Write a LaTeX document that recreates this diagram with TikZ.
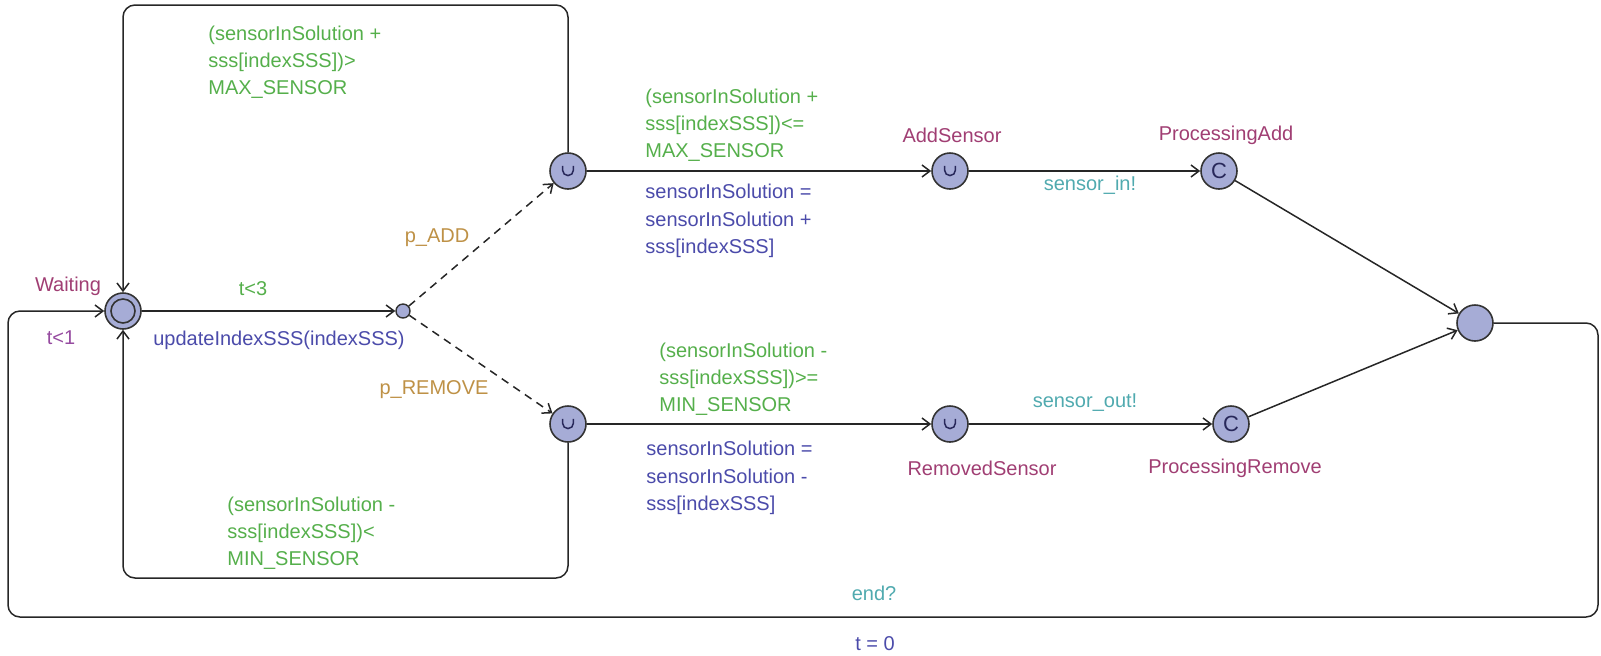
\documentclass[tikz,border=0pt]{standalone}
\usepackage{fontspec}
\setmainfont{Liberation Sans}
\usepackage{xcolor}
\usepackage{tikz}
\usetikzlibrary{arrows.meta,positioning}

\definecolor{locfill}{RGB}{166,172,214}
\definecolor{locname}{RGB}{160,62,115}
\definecolor{guardc}{RGB}{85,175,75}
\definecolor{updc}{RGB}{75,75,170}
\definecolor{syncc}{RGB}{80,170,175}
\definecolor{probc}{RGB}{190,145,70}
\definecolor{invc}{RGB}{150,75,160}
\definecolor{markc}{RGB}{40,40,90}

\begin{document}
\begin{tikzpicture}[
    x=0.5pt, y=-0.5pt,
    >={Straight Barb[length=4pt,width=6pt]},
    lbl/.style={font=\fontsize{10}{13.6}\selectfont, inner sep=1pt},
    loc/.style={circle, draw=black!80, line width=0.8pt, fill=locfill,
                minimum size=18pt, inner sep=0pt},
    initloc/.style={loc, path picture={
        \draw[black!80, line width=0.8pt] (path picture bounding box.center) circle (6pt);}},
    urg/.style={loc, path picture={
        \draw[markc, line width=0.75pt]
            ([xshift=-2.7pt,yshift=2.6pt]path picture bounding box.center)
            -- ++(0,-2.2pt) arc (180:360:2.7pt) -- ++(0,2.2pt);}},
    com/.style={loc, text=markc, font=\fontsize{11}{11}\selectfont},
    brp/.style={circle, draw=black!80, line width=0.7pt, fill=locfill,
                minimum size=7pt, inner sep=0pt},
    edge/.style={->, line width=0.75pt, black!85},
    lname/.style={lbl, text=locname},
    inv/.style={lbl, text=invc},
    guard/.style={lbl, text=guardc, align=left, anchor=west},
    upd/.style={lbl, text=updc, align=left, anchor=west},
    syncl/.style={lbl, text=syncc},
    prob/.style={lbl, text=probc}
]
    \useasboundingbox (0,0) rectangle (1601,655);

    % locations
    \node[initloc] (W)  at (123,311)  {};
    \node[brp]     (B)  at (403,311)  {};
    \node[urg]     (UA) at (568,171)  {};
    \node[urg]     (UR) at (568,424)  {};
    \node[urg]     (AS) at (950,171)  {};
    \node[com]     (PA) at (1219,171) {C};
    \node[urg]     (RS) at (950,424)  {};
    \node[com]     (PR) at (1231,424) {C};
    \node[loc]     (F)  at (1475,323) {};

    \node[lname] (nW)  at (68,286)   {Waiting};
    \node[inv]   (iW)  at (61,338)   {t<1};
    \node[lname] (nAS) at (952,135)  {AddSensor};
    \node[lname] (nPA) at (1226,135) {ProcessingAdd};
    \node[lname] (nRS) at (982,468)  {RemovedSensor};
    \node[lname] (nPR) at (1235,468) {ProcessingRemove};

    \coordinate (topY) at (0,5);
    \coordinate (botY) at (0,578);
    \coordinate (outR) at (1598,617);
    \coordinate (outL) at (8,617);

    % waiting -> branch point
    \draw[edge] (W) -- (B);
    \node[lbl, text=guardc] (gWB) at (253,289) {t<3};
    \node[lbl, text=updc]   (uWB) at (279,340) {updateIndexSSS(indexSSS)};

    % probabilistic branches
    \draw[edge, dash pattern=on 4pt off 3pt] (B) -- (UA);
    \draw[edge, dash pattern=on 4pt off 3pt] (B) -- (UR);
    \node[prob] (pA) at (437,238) {p\_ADD};
    \node[prob] (pR) at (434,390) {p\_REMOVE};

    % add side
    \draw[edge] (UA) -- (AS);
    \node[guard] (gA) at (643,125)
        {(sensorInSolution +\\sss[indexSSS])<=\\MAX\_SENSOR};
    \node[upd] (uA) at (643,221)
        {sensorInSolution =\\sensorInSolution +\\sss[indexSSS]};
    \draw[edge] (AS) -- (PA);
    \node[syncl] (sA) at (1090,185) {sensor\_in!};
    \draw[edge] (PA) -- (F);

    % remove side
    \draw[edge] (UR) -- (RS);
    \node[guard] (gR) at (657,379)
        {(sensorInSolution -\\sss[indexSSS])>=\\MIN\_SENSOR};
    \node[upd] (uR) at (644,478)
        {sensorInSolution =\\sensorInSolution -\\sss[indexSSS]};
    \draw[edge] (RS) -- (PR);
    \node[syncl] (sR) at (1085,403) {sensor\_out!};
    \draw[edge] (PR) -- (F);

    % loops back to Waiting
    \draw[edge, rounded corners=6pt] (UA) -- (UA |- topY) -| (W);
    \node[guard] (gTop) at (206,62)
        {(sensorInSolution +\\sss[indexSSS])>\\MAX\_SENSOR};
    \draw[edge, rounded corners=6pt] (UR) -- (UR |- botY) -| (W);
    \node[guard] (gBot) at (225,533)
        {(sensorInSolution -\\sss[indexSSS])<\\MIN\_SENSOR};
    \draw[edge, rounded corners=6pt] (F) -| (outR) -- (outL) |- (W);
    \node[syncl] (sEnd) at (874,593) {end?};
    \node[lbl, text=updc] (uEnd) at (875,644) {t = 0};
\end{tikzpicture}
\end{document}
